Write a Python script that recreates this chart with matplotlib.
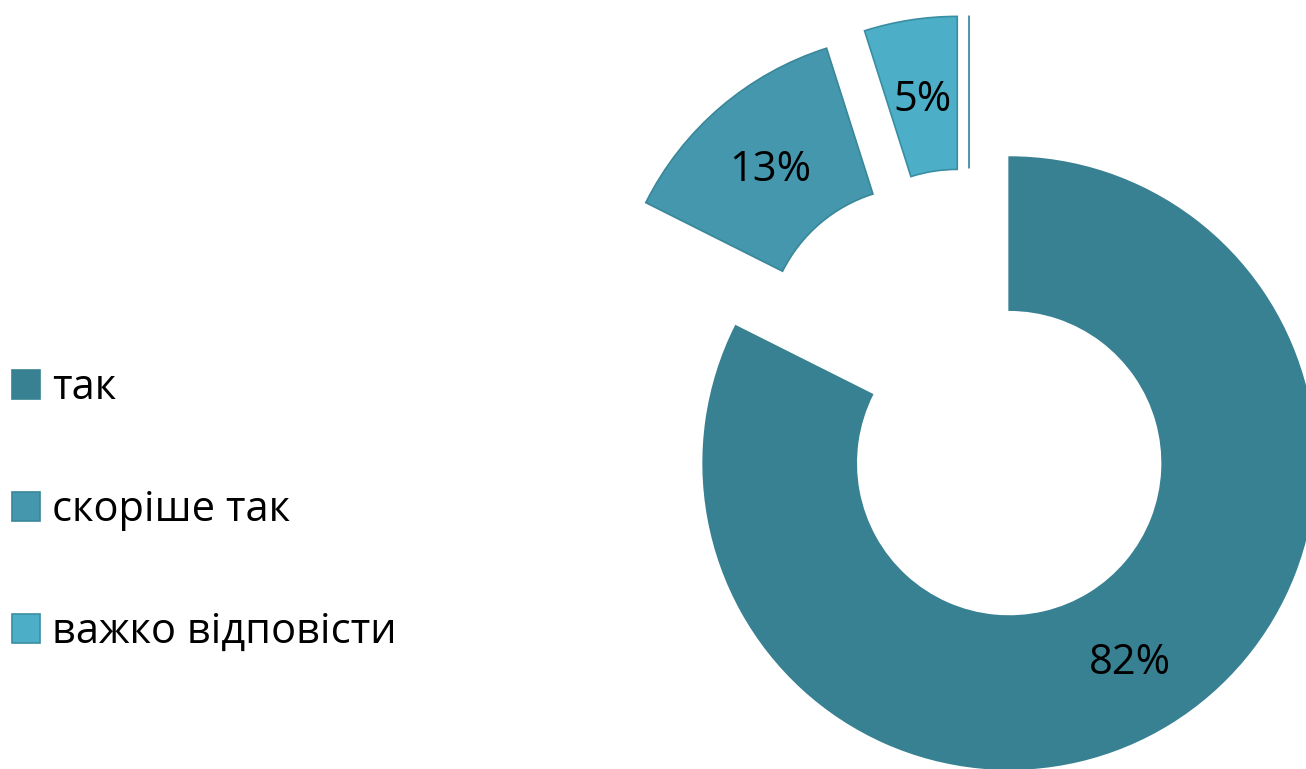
import matplotlib.pyplot as plt

# ---------------------------------------------------------------------------
# Data (shares; labels round them)
# ---------------------------------------------------------------------------
categories = ['так', 'скоріше так', 'важко відповісти', '']
values = [82.4, 12.7, 4.9, 0]
colors = ['#388192', '#4497AD', '#4CAFC7', '#4CAFC7']
edges = ['#388192', '#3A8799', '#3A8EA3', '#31859C']

plt.rcParams['font.family'] = ['Open Sans', 'DejaVu Sans']

# ---------------------------------------------------------------------------
# Figure: one unit of data = 306 px, donut centre at (969, 398) px
# ---------------------------------------------------------------------------
W, H, R = 1306, 769, 306.0
cx, cy = 969, 398
fig = plt.figure(figsize=(W / 100, H / 100), dpi=100)
ax = fig.add_axes([0, 0, 1, 1])
ax.axis('off')

wedges, texts, autotexts = ax.pie(
    values,
    explode=[0.25] * len(values),
    colors=colors,
    startangle=90,
    counterclock=False,
    radius=1.0,
    pctdistance=0.75,
    autopct=lambda p: f'{p:.0f}%' if p > 0 else '',
    wedgeprops=dict(width=0.5, linewidth=1.2),
    textprops=dict(fontsize=30, color='black'),
    normalize=True,
)
for w, ec in zip(wedges, edges):
    w.set_edgecolor(ec)
for t in autotexts:
    x, y = t.get_position()
    t.set_position((x, y - 0.015))
ax.set_xlim(-cx / R, (W - cx) / R)
ax.set_ylim(-(H - cy) / R, cy / R)
ax.set_aspect('auto')

fig.legend(
    wedges[:3], categories[:3],
    loc='center left',
    bbox_to_anchor=(12 / W, 1 - 510 / H),
    frameon=False,
    fontsize=30,
    handlelength=0.67,
    handleheight=0.67,
    handletextpad=0.3,
    labelspacing=1.92,
    borderpad=0,
    borderaxespad=0,
)

plt.savefig('out.png', dpi=100)
plt.close()
